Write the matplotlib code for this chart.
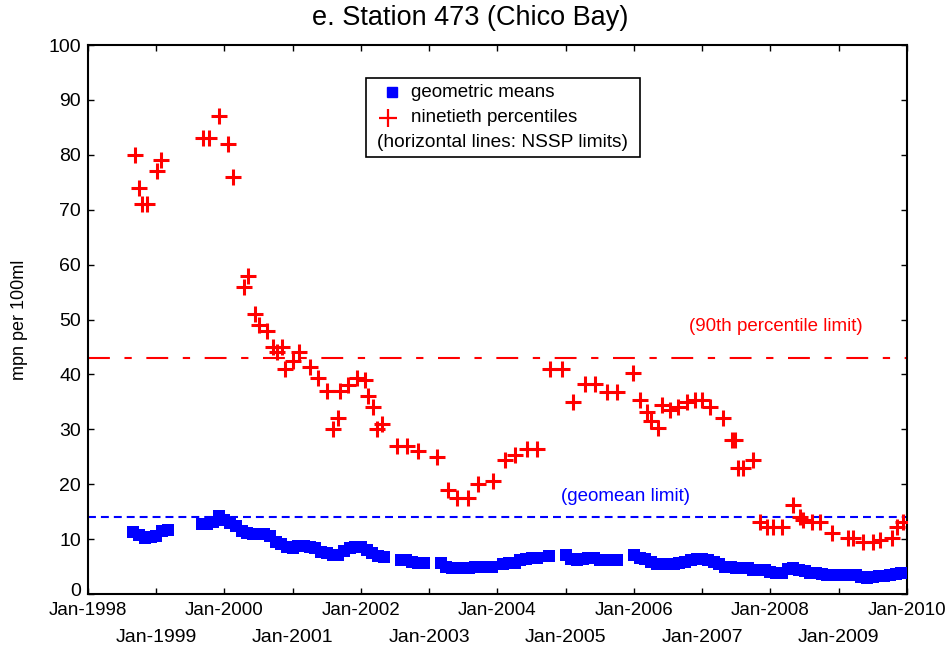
import matplotlib
matplotlib.use("Agg")
import matplotlib.pyplot as plt
import matplotlib.transforms as mtransforms
import pandas as pd
from matplotlib.patches import Rectangle

plt.rcParams['font.family'] = ['Liberation Sans', 'DejaVu Sans']

title = "e. Station 473 (Chico Bay)"
ylabel = "mpn per 100ml"
geomean_limit = 14
p90_limit = 43
even_years = [1998, 2000, 2002, 2004, 2006, 2008, 2010]
odd_years = [1999, 2001, 2003, 2005, 2007, 2009]
even_labels = ["Jan-%d" % y for y in even_years]
odd_labels = ["Jan-%d" % y for y in odd_years]

# ninetieth percentiles (decimal year, value)
p90_dates = [1998.69, 1998.75, 1998.79, 1998.87, 1999.01, 1999.07, 1999.68, 1999.78,
             1999.92, 2000.05, 2000.13, 2000.28, 2000.34, 2000.45, 2000.51, 2000.63,
             2000.71, 2000.77, 2000.84, 2000.88, 2001.00, 2001.09, 2001.25, 2001.37,
             2001.50, 2001.59, 2001.67, 2001.69, 2001.81, 2001.94, 2002.06, 2002.10,
             2002.18, 2002.23, 2002.31, 2002.53, 2002.68, 2002.83, 2003.12, 2003.28,
             2003.41, 2003.57, 2003.72, 2003.93, 2004.11, 2004.26, 2004.43, 2004.58,
             2004.77, 2004.94, 2005.11, 2005.28, 2005.43, 2005.61, 2005.75, 2005.98,
             2006.09, 2006.19, 2006.25, 2006.35, 2006.41, 2006.53, 2006.64, 2006.78,
             2006.89, 2007.00, 2007.12, 2007.30, 2007.43, 2007.48, 2007.53, 2007.60,
             2007.74, 2007.85, 2007.95, 2008.03, 2008.17, 2008.33, 2008.43, 2008.48,
             2008.61, 2008.73, 2008.90, 2009.13, 2009.21, 2009.36, 2009.50, 2009.61,
             2009.78, 2009.85, 2009.94]
p90_values = [80, 74, 71, 71, 77, 79, 83, 83,
              87, 82, 76, 56, 58, 51, 49, 48,
              45, 44, 45, 41, 42.5, 44, 41.4, 39.3,
              37, 30, 32, 37, 38, 39.3, 39, 36,
              34, 30, 31, 27, 27, 26, 25, 19,
              17.5, 17.5, 20, 20.5, 24.4, 25.3, 26.4, 26.4,
              41, 41, 35, 38.3, 38.3, 36.8, 36.8, 40.3,
              35.3, 33.2, 31.5, 30.2, 34.4, 33.5, 34, 35,
              35.3, 35.3, 34, 32, 28, 28, 23, 23,
              24.4, 13.1, 12.2, 12.2, 12.2, 16.2, 14, 13.5,
              13.1, 13.1, 11.1, 10.2, 10.2, 9.5, 9.5, 9.8,
              10.2, 12.2, 13.1]

# geometric means (month, value)
gm_months = ["1998-09", "1998-10", "1998-11", "1998-12", "1999-01", "1999-02", "1999-03",
             "1999-09", "1999-10", "1999-11", "1999-12", "2000-01", "2000-02", "2000-03",
             "2000-04", "2000-05", "2000-06", "2000-07", "2000-08", "2000-09", "2000-10",
             "2000-11", "2000-12", "2001-01", "2001-02", "2001-03", "2001-04", "2001-05",
             "2001-06", "2001-07", "2001-08", "2001-09", "2001-10", "2001-11", "2001-12",
             "2002-01", "2002-02", "2002-03", "2002-04", "2002-05",
             "2002-08", "2002-09", "2002-10", "2002-11", "2002-12",
             "2003-03", "2003-04", "2003-05", "2003-06", "2003-07", "2003-08", "2003-09",
             "2003-10", "2003-11", "2003-12",
             "2004-02", "2004-03", "2004-04", "2004-05", "2004-06", "2004-07", "2004-08",
             "2004-10",
             "2005-01", "2005-02", "2005-03", "2005-04", "2005-05", "2005-06", "2005-07",
             "2005-08", "2005-09", "2005-10",
             "2006-01", "2006-02", "2006-03", "2006-04", "2006-05", "2006-06", "2006-07",
             "2006-08", "2006-09", "2006-10", "2006-11", "2006-12",
             "2007-01", "2007-02", "2007-03", "2007-04", "2007-05", "2007-06", "2007-07",
             "2007-08", "2007-09", "2007-10", "2007-11", "2007-12",
             "2008-01", "2008-02", "2008-03", "2008-04", "2008-05", "2008-06", "2008-07",
             "2008-08", "2008-09", "2008-10", "2008-11", "2008-12",
             "2009-01", "2009-02", "2009-03", "2009-04", "2009-05", "2009-06", "2009-07",
             "2009-08", "2009-09", "2009-10", "2009-11", "2009-12"]
gm_values = [11.3, 10.8, 10.2, 10.3, 10.6, 11.5, 11.6,
             12.7, 12.7, 13.2, 14.2, 13.5, 13.0, 12.4,
             11.5, 11.2, 11.0, 10.9, 10.9, 10.6, 9.5,
             9.2, 8.5, 8.4, 8.8, 8.8, 8.6, 8.3,
             7.7, 7.5, 7.1, 7.1, 7.8, 8.4, 8.5,
             8.5, 8.0, 7.5, 6.9, 6.8,
             6.2, 6.2, 5.8, 5.6, 5.6,
             5.6, 5.0, 4.7, 4.7, 4.8, 4.8, 4.9,
             4.9, 4.9, 5.0,
             5.5, 5.6, 5.6, 6.2, 6.4, 6.5, 6.6,
             7.0,
             7.1, 6.3, 6.2, 6.4, 6.5, 6.5, 6.2,
             6.2, 6.2, 6.2,
             7.2, 6.6, 6.3, 5.8, 5.4, 5.4, 5.4,
             5.5, 5.6, 5.9, 6.2, 6.4,
             6.4, 6.2, 5.8, 5.5, 5.0, 4.9, 4.8,
             4.7, 4.7, 4.4, 4.4, 4.3,
             4.0, 3.8, 3.8, 4.5, 4.7, 4.3, 4.2,
             3.9, 3.8, 3.6, 3.5, 3.5,
             3.5, 3.5, 3.4, 3.4, 3.1, 3.0, 3.1,
             3.3, 3.3, 3.4, 3.6, 3.8]

gm_dt = pd.to_datetime(gm_months)
gm_x = gm_dt.year + (gm_dt.month - 1) / 12.0

fig = plt.figure(figsize=(9.5, 6.54), dpi=100)
ax = fig.add_axes([0.0926, 0.0917, 0.8621, 0.8394])

ax.axhline(p90_limit, color="red", lw=1.5, linestyle=(0, (10.5, 7, 3.5, 7)), zorder=1)
ax.axhline(geomean_limit, color="blue", lw=1.5, linestyle=(0, (3.8, 2.4)), zorder=1)

ax.plot(gm_x, gm_values, linestyle="none", marker="s", markersize=8,
        color="blue", markeredgewidth=0, zorder=3)
ax.plot(p90_dates, p90_values, linestyle="none", marker="+", markersize=12,
        markeredgewidth=2.2, color="red", zorder=4)

ax.text(0.84, 0.487, "(90th percentile limit)", transform=ax.transAxes,
        color="red", fontsize=13.5, ha="center", va="center")
ax.text(0.656, 0.178, "(geomean limit)", transform=ax.transAxes,
        color="blue", fontsize=13.5, ha="center", va="center")

ax.set_xlim(1998, 2010)
ax.set_ylim(0, 100)
ax.set_yticks(range(0, 101, 10))
ax.set_xticks(even_years)
ax.set_xticklabels(even_labels)
ax.set_xticks(odd_years, minor=True)
ax.set_xticklabels(odd_labels, minor=True)
ax.tick_params(which="both", direction="in", length=4, width=1, labelsize=14,
               top=True, right=True)
ax.tick_params(axis="x", labelsize=13.5)
ax.tick_params(axis="y", pad=5)
ax.tick_params(axis="x", which="major", pad=6)
ax.tick_params(axis="x", which="minor", pad=25)
for s in ax.spines.values():
    s.set_linewidth(1.5)
ax.set_ylabel(ylabel, fontsize=13, labelpad=15)
fig.suptitle(title, fontsize=19.5, x=0.495, y=0.992)

# nudge the "0" label up slightly so it clears "Jan-1998"
zero_lab = ax.yaxis.get_major_ticks()[0].label1
zero_lab.set_transform(zero_lab.get_transform() +
                       mtransforms.ScaledTranslation(0, 3 / 72, fig.dpi_scale_trans))

# legend box
box = Rectangle((0.339, 0.796), 0.335, 0.144, transform=ax.transAxes,
                facecolor="white", edgecolor="black", lw=1.2, zorder=5)
ax.add_patch(box)
ax.plot([0.371], [0.914], transform=ax.transAxes, marker="s", markersize=7,
        color="blue", linestyle="none", zorder=6, clip_on=False)
ax.plot([0.366], [0.868], transform=ax.transAxes, marker="+", markersize=13,
        markeredgewidth=1.6, color="red", linestyle="none", zorder=6, clip_on=False)
ax.text(0.394, 0.914, "geometric means", transform=ax.transAxes, fontsize=13.5,
        va="center", ha="left", zorder=6)
ax.text(0.394, 0.868, "ninetieth percentiles", transform=ax.transAxes, fontsize=13.5,
        va="center", ha="left", zorder=6)
ax.text(0.5065, 0.823, "(horizontal lines: NSSP limits)", transform=ax.transAxes,
        fontsize=13.8, va="center", ha="center", zorder=6)

fig.savefig("out.png", dpi=100)
